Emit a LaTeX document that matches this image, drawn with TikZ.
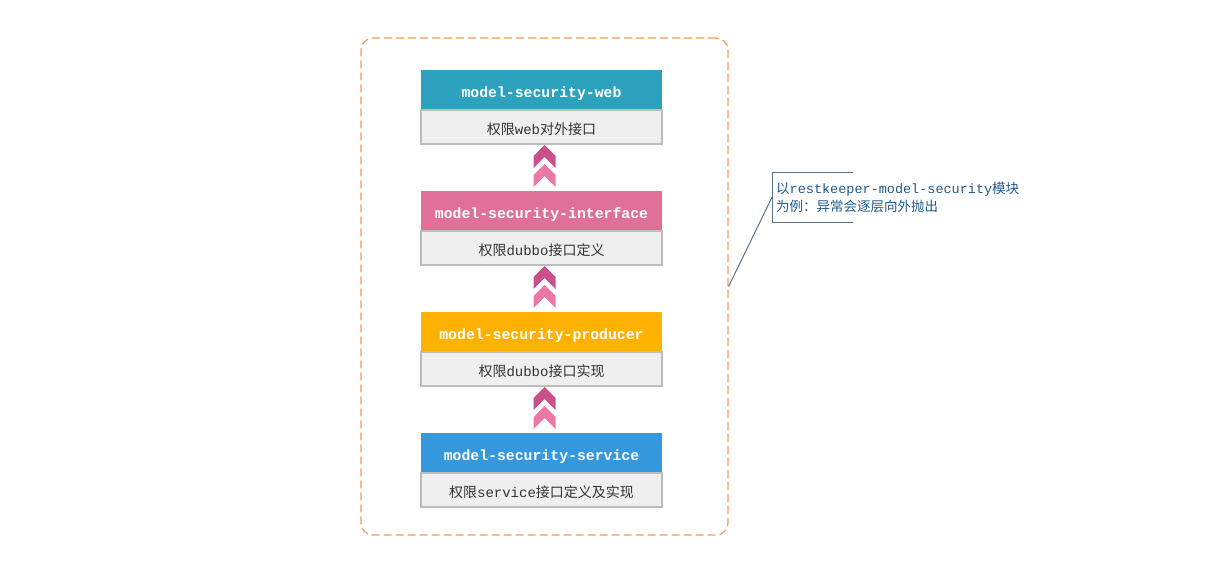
\documentclass[tikz,border=0pt]{standalone}
\usepackage{fontspec}
\setmainfont{Liberation Mono}
\newfontfamily\cjk{Noto Sans CJK SC}
\newcommand\zh[1]{{\cjk#1}}
\usepackage{tikz}
\usetikzlibrary{positioning,calc}
\definecolor{webteal}{HTML}{2DA2BF}
\definecolor{ifpink}{HTML}{E07097}
\definecolor{prodamber}{HTML}{FFB100}
\definecolor{servblue}{HTML}{3598DC}
\definecolor{bodygray}{HTML}{EFEFEF}
\definecolor{bodyline}{HTML}{BDBDBD}
\definecolor{bodyink}{HTML}{333333}
\definecolor{framerange}{HTML}{F29A5A}
\definecolor{chevdark}{HTML}{C9508A}
\definecolor{chevlight}{HTML}{EC78A8}
\definecolor{noteline}{HTML}{5B7087}
\definecolor{noteink}{HTML}{1F5A8E}
\tikzset{
  headbox/.style={rectangle,text=white,minimum width=241pt,minimum height=40pt,
    inner sep=0pt,outer sep=0pt,text height=15pt,text depth=1pt,
    font=\fontsize{14.8}{16}\selectfont\bfseries},
  bodybox/.style={rectangle,draw=bodyline,line width=1.4pt,fill=bodygray,text=bodyink,
    minimum width=241pt,minimum height=34pt,inner sep=0pt,outer sep=0pt,
    text height=16.5pt,text depth=1pt,font=\fontsize{14}{16}\selectfont},
  frame/.style={rectangle,draw=framerange,line width=1.2pt,dash pattern=on 8pt off 4pt,
    rounded corners=12pt,minimum width=367pt,minimum height=497pt},
  notebox/.style={rectangle,text=noteink,align=left,inner xsep=4pt,inner ysep=0pt,
    minimum height=50pt,font=\fontsize{13.5}{18}\selectfont},
  noteline/.style={draw=noteline,line width=1pt},
  chevrons/.pic={
    \fill[chevdark] (0,0) -- (11,-11) -- (11,-23) -- (0,-12) -- (-11,-23) -- (-11,-11) -- cycle;
    \fill[chevlight] (0,-19) -- (11,-30) -- (11,-42) -- (0,-31) -- (-11,-42) -- (-11,-30) -- cycle;
  },
}
\begin{document}
\begin{tikzpicture}[x=1pt,y=1pt,node distance=47pt and 0pt]
  \useasboundingbox (0,0) rectangle (1215,-570);
  \node[frame] (frame) at (544.5,-286.5) {};

  \node[headbox,fill=webteal] (webhd) at (541.5,-90) {model-security-web};
  \node[bodybox,below=0pt of webhd] (webbd) {\zh{权限}web\zh{对外接口}};
  \node[headbox,fill=ifpink,below=of webbd] (ifhd) {model-security-interface};
  \node[bodybox,below=0pt of ifhd] (ifbd) {\zh{权限}dubbo\zh{接口定义}};
  \node[headbox,fill=prodamber,below=of ifbd] (prodhd) {model-security-producer};
  \node[bodybox,below=0pt of prodhd] (prodbd) {\zh{权限}dubbo\zh{接口实现}};
  \node[headbox,fill=servblue,below=of prodbd] (servhd) {model-security-service};
  \node[bodybox,below=0pt of servhd] (servbd) {\zh{权限}service\zh{接口定义及实现}};

  \pic at ($(webbd.south)+(3,-1)$) {chevrons};
  \pic at ($(ifbd.south)+(3,-1)$) {chevrons};
  \pic at ($(prodbd.south)+(3,-1)$) {chevrons};

  \node[notebox,anchor=north west] (note) at (772,-172)
    {\zh{以}restkeeper-model-security\zh{模块}\\\zh{为例：异常会逐层向外抛出}};
  \draw[noteline] ($(note.north west)+(81,0)$) -- (note.north west) -- (note.south west) -- +(81,0);
  \draw[noteline] (note.west) -- (frame.east);
\end{tikzpicture}
\end{document}
